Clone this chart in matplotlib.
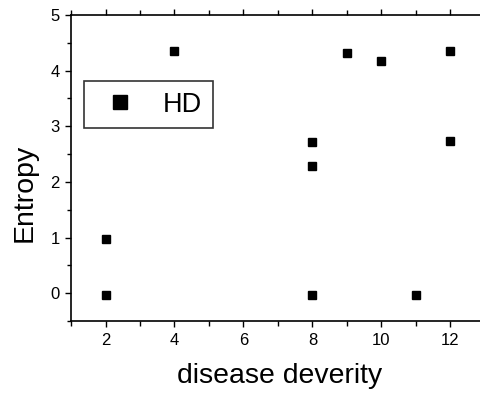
import matplotlib
matplotlib.use("Agg")
import matplotlib.pyplot as plt
from matplotlib.ticker import MultipleLocator

plt.rcParams['font.family'] = ['Liberation Sans', 'DejaVu Sans']

# disease severity vs. entropy
severity = [2, 2, 4, 8, 8, 8, 9, 10, 11, 12, 12]
entropy = [0.97, -0.03, 4.35, 2.72, 2.29, -0.03, 4.31, 4.18, -0.03, 4.35, 2.73]
series_label = "HD"
x_label = "disease deverity"
y_label = "Entropy"
x_ticks = [2, 4, 6, 8, 10, 12]
y_ticks = [0, 1, 2, 3, 4, 5]

fig = plt.figure(figsize=(4.81, 3.96), dpi=100)
ax = fig.add_axes([71 / 481, 1 - 321 / 396, 414 / 481, (321 - 15) / 396])

ax.plot(severity, entropy, linestyle='none', marker='s', markersize=5.2,
        color='black', label=series_label)

ax.set_xlim(1, 13)
ax.set_ylim(-0.5, 5)
ax.set_xticks(x_ticks)
ax.set_yticks(y_ticks)
ax.xaxis.set_minor_locator(MultipleLocator(1))
ax.yaxis.set_minor_locator(MultipleLocator(0.5))

for side in ['left', 'bottom', 'top']:
    ax.spines[side].set_linewidth(1.2)
ax.spines['right'].set_visible(False)

ax.tick_params(axis='both', which='major', labelsize=12, width=1.0, pad=4)
ax.tick_params(axis='x', which='major', direction='out', length=4.5)
ax.tick_params(axis='x', which='minor', direction='out', length=3.5, width=1.0)
ax.tick_params(axis='y', which='major', direction='out', length=4)
ax.tick_params(axis='y', which='minor', direction='out', length=3, width=1.0)
ax.tick_params(axis='x', which='both', top=True, bottom=True)

ax.set_xlabel(x_label, fontsize=20.4)
ax.set_ylabel(y_label, fontsize=20.5)
ax.xaxis.set_label_coords(0.505, -0.137)
ax.yaxis.set_label_coords(-0.08, 0.42)

leg = ax.legend(loc='upper left', bbox_to_anchor=(84 / 481, 1 - 81 / 396),
                bbox_transform=fig.transFigure, borderaxespad=0,
                fontsize=19.5, markerscale=1.8, frameon=True, fancybox=False,
                borderpad=0.39, handlelength=1.88, handletextpad=0.65,
                numpoints=1)
leg.get_frame().set_edgecolor('black')
leg.get_frame().set_linewidth(1.2)

fig.savefig("out.png", dpi=100)
